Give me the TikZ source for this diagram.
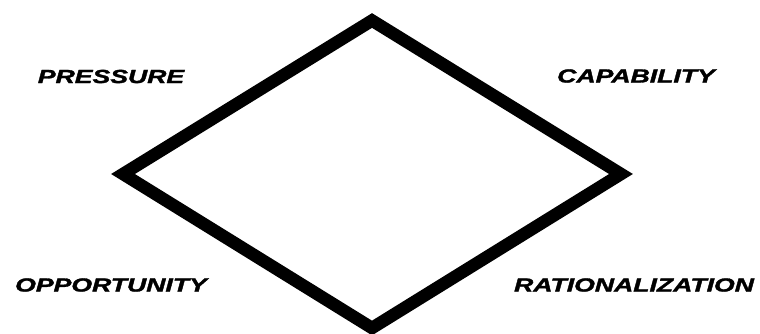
\documentclass[tikz,border=0pt]{standalone}
\usepackage{fontspec}
\setmainfont{Liberation Sans}
\newfontfamily\heavyfont[BoldItalicFeatures={FakeBold=1.5}]{Liberation Sans}

\begin{document}
\begin{tikzpicture}[x=1pt,y=-1pt]
% y axis points down, as in pixel coordinates

% style
\tikzset{
    baseLine/.style={draw, line width=12.5pt, line join=miter, miter limit=10},
    labelText/.style={inner sep=0pt, xscale=1.4, font=\fontsize{19}{19}\heavyfont\bfseries\itshape}
}

\useasboundingbox (0,0) rectangle (760,333);

% corners
\coordinate (top)    at (372, 20.5);
\coordinate (right)  at (621,174);
\coordinate (bottom) at (372,328);
\coordinate (left)   at (123,174);

% diamond
\draw[baseLine] (top) -- (right) -- (bottom) -- (left) -- cycle;

% labels
\node[labelText] (pressure)    at (111,76.5) {PRESSURE};
\node[labelText] (capability)  at (636,76)   {CAPABILITY};
\node[labelText] (opportunity) at (111,285)  {OPPORTUNITY};
\node[labelText] (rational)    at (634,285)  {RATIONALIZATION};

\end{tikzpicture}
\end{document}
